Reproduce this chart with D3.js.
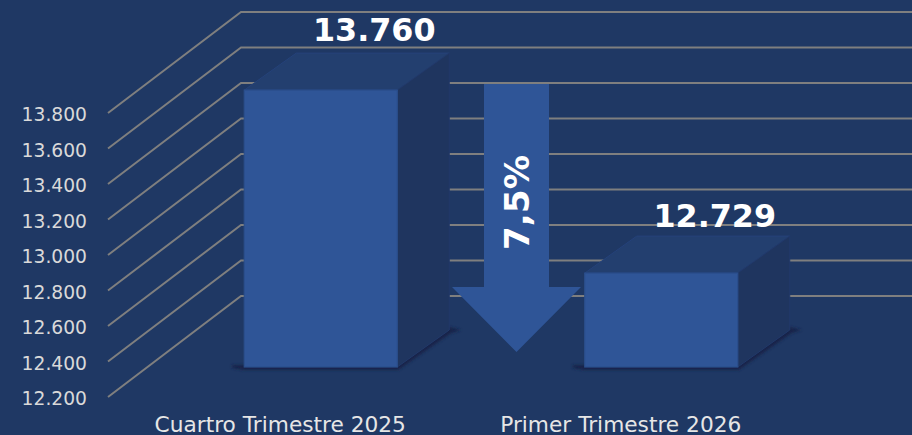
<!DOCTYPE html>
<html><head><meta charset="utf-8">
<script src="https://cdn.jsdelivr.net/npm/d3@7"></script>
<style>html,body{margin:0;padding:0;background:#1f3864;overflow:hidden}svg{display:block}text{font-family:"DejaVu Sans",Verdana,sans-serif}</style>
</head><body><svg id="c" width="912" height="435"></svg>
<script>
const categories = ["Cuartro Trimestre 2025", "Primer Trimestre 2026"];
const values = [13760, 12729];
const valueLabels = ["13.760", "12.729"];
const tickValues = [12200, 12400, 12600, 12800, 13000, 13200, 13400, 13600, 13800];
const tickLabels = ["12.200", "12.400", "12.600", "12.800", "13.000", "13.200", "13.400", "13.600", "13.800"];
const changeLabel = "7,5%";

const W = 912, H = 435;
const svg = d3.select("#c").attr("viewBox", [0, 0, W, H]);
const defs = svg.append("defs");
defs.append("filter").attr("id", "blur").attr("x", "-20%").attr("y", "-20%").attr("width", "140%").attr("height", "140%")
  .append("feGaussianBlur").attr("stdDeviation", 1.8);

const y = d3.scaleLinear().domain([12200, 13800]).range([397, 113]);
const x = d3.scaleBand().domain(categories).range([110, 791]).paddingInner(0).paddingOuter(0);
const wall = { dx: 133, dy: -101 };   // floor vector from front edge to back wall
const barFront = { dx: 40, dy: -30 }; // bar's front face offset on the floor
const depth = { dx: 52, dy: -37 };    // bar depth
const barW = 153;
const gridRight = W;

svg.append("rect").attr("width", W).attr("height", H).attr("fill", "#1f3864");

svg.append("g").selectAll("path").data(tickValues).join("path")
  .attr("d", v => d3.line()([[108, y(v)], [108 + wall.dx, y(v) + wall.dy], [gridRight, y(v) + wall.dy]]))
  .attr("fill", "none").attr("stroke", "#7f7f7f").attr("stroke-width", 2);

svg.append("g").selectAll("text").data(tickValues).join("text")
  .attr("x", 87).attr("y", v => y(v) + 8)
  .attr("text-anchor", "end").attr("font-size", 18.7).attr("fill", "#d9d9d9")
  .text((v, i) => tickLabels[i]);

svg.append("g").selectAll("text").data(categories).join("text")
  .attr("x", c => x(c) + x.bandwidth() / 2).attr("y", 432)
  .attr("text-anchor", "middle").attr("font-size", 21.7).attr("fill", "#e6e6e6")
  .text(c => c);

const bars = values.map((v, i) => {
  const cx = x(categories[i]) + x.bandwidth() / 2 + barFront.dx + 0.5;
  const l = cx - barW / 2, r = cx + barW / 2;
  const fy = y(12200) + barFront.dy;
  const ty = y(v) + barFront.dy;
  return { v, i, l, r, fy, ty, ddx: depth.dx, ddy: depth.dy };
});
const g = svg.append("g");
bars.forEach(b => {
  const line = d3.line();
  g.append("path").attr("d", line([[b.l - 12, b.fy + 1], [b.l, b.fy + 3], [b.r + 1, b.fy + 3], [b.r + b.ddx + 2, b.fy + b.ddy + 3], [b.r + b.ddx + 12, b.fy + b.ddy], [b.r + b.ddx, b.fy + b.ddy - 3], [b.r, b.fy - 3], [b.l - 12, b.fy - 2]]) + "Z")
    .attr("fill", "#132448").attr("filter", "url(#blur)");
  g.append("path").attr("d", line([[b.l, b.ty], [b.l + b.ddx, b.ty + b.ddy], [b.r + b.ddx, b.ty + b.ddy], [b.r, b.ty]]) + "Z")
    .attr("fill", "#233f6f").attr("stroke", "#25427a").attr("stroke-width", 1);
  g.append("path").attr("d", line([[b.r, b.ty], [b.r + b.ddx, b.ty + b.ddy], [b.r + b.ddx, b.fy + b.ddy], [b.r, b.fy]]) + "Z")
    .attr("fill", "#1f355f").attr("stroke", "#22396a").attr("stroke-width", 1);
  g.append("rect").attr("x", b.l).attr("y", b.ty).attr("width", barW).attr("height", b.fy - b.ty)
    .attr("fill", "#2f5597").attr("stroke", "#2b4f8c").attr("stroke-width", 1.2);
});

svg.append("g").selectAll("text").data(bars).join("text")
  .attr("x", b => (b.l + b.r) / 2 + 53.5)
  .attr("y", b => b.ty + b.ddy - (b.i === 0 ? 12 : 9))
  .attr("text-anchor", "middle").attr("font-size", 31.8).attr("font-weight", 700).attr("fill", "#ffffff")
  .text(b => valueLabels[b.i]);

const ax = 516.5, aTop = 84, aNeck = 287, aTip = 352, aHalfShaft = 32.5, aHalfHead = 64.5;
svg.append("path").attr("d", d3.line()([
  [ax - aHalfShaft, aTop], [ax + aHalfShaft, aTop], [ax + aHalfShaft, aNeck], [ax + aHalfHead, aNeck],
  [ax, aTip], [ax - aHalfHead, aNeck], [ax - aHalfShaft, aNeck]]) + "Z").attr("fill", "#2f5597");
svg.append("text").attr("transform", `translate(529,250) rotate(-90)`)
  .attr("font-size", 34).attr("font-weight", 700).attr("fill", "#ffffff")
  .attr("textLength", 95).attr("lengthAdjust", "spacingAndGlyphs").text(changeLabel);
</script></body></html>
